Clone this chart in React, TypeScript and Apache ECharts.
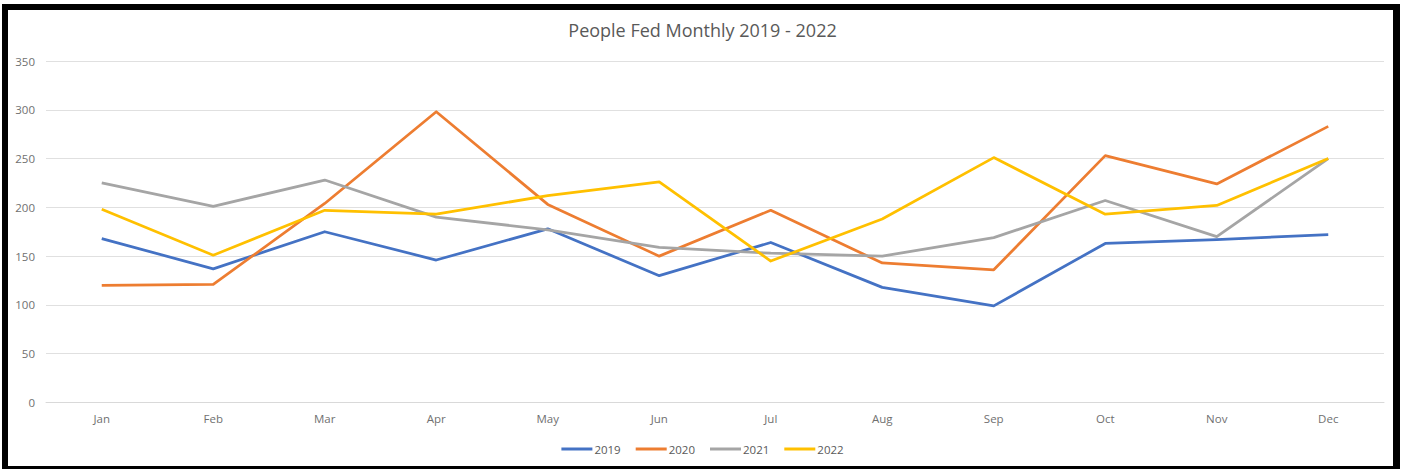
import React, { useEffect, useRef } from "react";
import * as echarts from "echarts";

const months = ["Jan", "Feb", "Mar", "Apr", "May", "Jun", "Jul", "Aug", "Sep", "Oct", "Nov", "Dec"];
const s2019 = [168, 137, 175, 146, 178, 130, 164, 118, 99, 163, 167, 172];
const s2020 = [120, 121, 204, 298, 203, 150, 197, 143, 136, 253, 224, 283];
const s2021 = [225, 201, 228, 190, 177, 159, 153, 150, 169, 207, 170, 250];
const s2022 = [198, 151, 197, 193, 212, 226, 145, 188, 251, 193, 202, 250];
const seriesNames = ["2019", "2020", "2021", "2022"];
const seriesColors = ["#4472C4", "#ED7D31", "#A5A5A5", "#FFC000"];
const titleText = "People Fed Monthly 2019 - 2022";

const FONT = "'Open Sans', 'Noto Sans', sans-serif";

export default function App() {
  const ref = useRef<HTMLDivElement>(null);

  useEffect(() => {
    if (!ref.current) return;
    const chart = echarts.init(ref.current, undefined, { renderer: "svg" });
    const data = [s2019, s2020, s2021, s2022];
    chart.setOption({
      animation: false,
      backgroundColor: "transparent",
      title: {
        text: titleText,
        left: "center",
        top: 16,
        textStyle: { fontFamily: FONT, fontSize: 18, fontWeight: "normal", color: "#595959" },
      },
      legend: {
        bottom: 14,
        left: "center",
        padding: 0,
        icon: "rect",
        itemWidth: 31,
        itemHeight: 3,
        itemGap: 15,
        textStyle: { fontFamily: FONT, fontSize: 11.5, color: "#595959", padding: [0, 0, 0, -3] },
        data: seriesNames,
      },
      grid: { left: 46, right: 21, top: 61, bottom: 66.5, containLabel: false },
      xAxis: {
        type: "category",
        data: months,
        boundaryGap: true,
        axisLine: { show: true, lineStyle: { color: "#d9d9d9", width: 1 } },
        axisTick: { show: false },
        axisLabel: { fontFamily: FONT, fontSize: 11.5, color: "#707070", margin: 10 },
      },
      yAxis: {
        type: "value",
        min: 0,
        max: 350,
        interval: 50,
        axisLine: { show: false },
        axisTick: { show: false },
        axisLabel: { fontFamily: FONT, fontSize: 11.5, color: "#707070", margin: 11 },
        splitLine: { lineStyle: { color: "#e0e0e0", width: 1 } },
      },
      series: seriesNames.map((name, i) => ({
        name,
        type: "line",
        data: data[i],
        showSymbol: false,
        symbol: "none",
        color: seriesColors[i],
        lineStyle: { width: 2.75, color: seriesColors[i], join: "round" },
      })),
    });
    return () => chart.dispose();
  }, []);

  return (
    <div style={{ position: "absolute", left: 0, top: 0, width: 1405, height: 469, background: "#fff", overflow: "hidden" }}>
      <div
        style={{
          position: "absolute",
          left: 2,
          top: 4,
          width: 1398,
          height: 465,
          boxSizing: "border-box",
          borderTop: "6px solid #000",
          borderLeft: "6px solid #000",
          borderRight: "7px solid #000",
          borderBottom: "3px solid #000",
        }}
      />
      <div ref={ref} style={{ position: "absolute", left: 0, top: 0, width: 1405, height: 469 }} />
    </div>
  );
}
